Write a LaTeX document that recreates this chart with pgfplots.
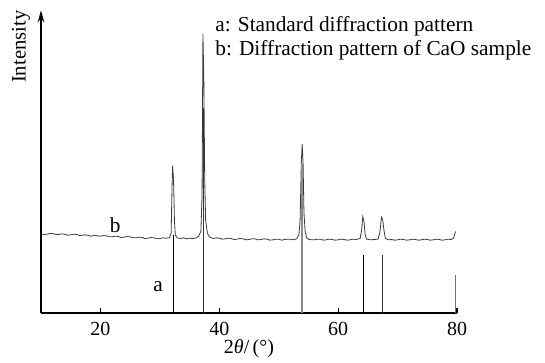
\documentclass[border=0pt]{standalone}
\usepackage{pgfplots}
\pgfplotsset{compat=1.18}
\usepackage{fontspec}
\setmainfont{Liberation Serif}
\usetikzlibrary{arrows.meta}
\definecolor{curve}{HTML}{3A3A3A}
\begin{document}
\begin{tikzpicture}
\useasboundingbox (-30.75pt,-36.75pt) rectangle (378pt,234.75pt);
\begin{axis}[
  scale only axis, width=312pt, height=227pt,
  xmin=10, xmax=80, ymin=0, ymax=91,
  axis x line=bottom, axis y line=left,
  x axis line style={-, line width=1.2pt},
  y axis line style={-{Stealth[length=9pt,width=5pt]}, line width=1.2pt},
  xtick={20,40,60,80}, ytick=\empty,
  tick align=inside, major tick length=4pt,
  tick style={line width=0.8pt, black},
  xticklabel style={font=\fontsize{15}{15}\selectfont, yshift=-3pt},
  /pgf/number format/assume math mode=true,
  xlabel={2\textit{θ}/\,(°)},
  xlabel style={font=\fontsize{15}{15}\selectfont, yshift=4pt},
  clip=false,
]
% pattern b
\addplot[curve, line width=0.6pt] coordinates {
(10,23.8)(10.5,23.6)(11,23.7)(11.5,23.9)(12,23.9)(12.5,23.6)(13,23.6)(13.5,23.8)(14,23.7)(14.5,23.4)(15,23.5)(15.5,23.7)(16,23.6)(16.5,23.3)(17,23.4)(17.5,23.5)(18,23.3)(18.5,23.1)(19,23.4)(19.5,23.2)(20,23.1)(20.5,23.3)(21,23.2)(21.5,22.9)(22,22.9)(22.5,23.1)(23,23.0)(23.5,22.7)(24,22.8)(24.5,23.0)(25,22.9)(25.5,22.6)(26,22.6)(26.5,22.8)(27,22.7)(27.5,22.4)(28,22.5)(28.5,22.7)(29,22.6)(29.5,22.3)(30,22.4)(30.5,22.6)(31,22.5)(31.6,22.6)(31.9,24)(32.05,38)(32.15,44.3)(32.3,40)(32.45,28)(32.6,23.5)(32.9,22.6)(33.5,22.4)(34,22.6)(34.5,22.3)(35,22.5)(35.5,22.4)(36,22.5)(36.5,23)(36.9,24.5)(37.1,35)(37.25,84)(37.4,70)(37.55,40)(37.7,28)(38,24)(38.4,22.8)(39,22.4)(39.5,22.6)(40,22.5)(40.5,22.2)(41,22.3)(41.5,22.5)(42,22.4)(42.5,22.1)(43,22.2)(43.5,22.4)(44,22.3)(44.5,22.0)(45,22.1)(45.5,22.3)(46,22.3)(46.5,22.0)(47,22.1)(47.5,22.3)(48,22.2)(48.5,21.9)(49,22.0)(49.5,22.2)(50,22.2)(50.5,21.9)(51,22.1)(51.5,22.2)(52,22.2)(52.5,22.0)(53,22.3)(53.4,23.5)(53.6,28)(53.8,45)(53.95,50.8)(54.1,45)(54.25,30)(54.45,24.5)(54.7,22.6)(55,22.2)(55.5,22.0)(56,22.0)(56.5,22.2)(57,22.2)(57.5,21.9)(58,22.0)(58.5,22.2)(59,22.1)(59.5,21.9)(60,22.0)(60.5,22.2)(61,22.1)(61.5,21.9)(62,22.0)(62.5,22.2)(63,22.1)(63.7,22.4)(63.95,25)(64.15,29)(64.35,27.5)(64.55,23.5)(64.8,22.2)(65.5,22.0)(66,22.1)(66.7,22.2)(67.0,24)(67.3,28.8)(67.5,28)(67.7,25)(67.95,22.4)(68.5,22.0)(69,22.1)(69.5,21.9)(70,22.0)(70.5,22.2)(71,22.1)(71.5,21.9)(72,22.0)(72.5,22.2)(73,22.1)(73.5,21.9)(74,22.0)(74.5,22.2)(75,22.1)(75.5,21.9)(76,22.0)(76.5,22.2)(77,22.1)(77.5,21.9)(78,22.0)(78.5,22.2)(79,22.1)(79.4,22.5)(79.6,23.5)(79.75,24.5)
};
% pattern a (sticks)
\addplot[ycomb, black, line width=0.5pt, no marks] coordinates {(32.2,23.5)(64.2,17.5)};
\addplot[ycomb, black!80, line width=0.9pt, no marks] coordinates {(37.4,61.5)(67.4,17.5)};
\addplot[ycomb, black!45, line width=1.6pt, no marks] coordinates {(53.9,45)};
\addplot[ycomb, black!55, line width=0.5pt, no marks] coordinates {(79.7,11.5)};
\node[font=\fontsize{16}{16}\selectfont] at (axis cs:29.7,7.8) {a};
\node[font=\fontsize{16}{16}\selectfont] at (axis cs:22.5,26.4) {b};
\node[anchor=base west, font=\fontsize{16}{16}\selectfont, inner sep=0pt] at (axis cs:39.3,84.7) {a: Standard diffraction pattern};
\node[anchor=base west, font=\fontsize{16}{16}\selectfont, inner sep=0pt] at (axis cs:39.3,77.5) {b: Diffraction pattern of CaO sample};
\node[rotate=90, anchor=south east, font=\fontsize{15.5}{15.5}\selectfont, inner sep=0pt] at ([xshift=-8pt,yshift=0pt]axis description cs:0,1) {Intensity};
\end{axis}
\end{tikzpicture}
\end{document}
